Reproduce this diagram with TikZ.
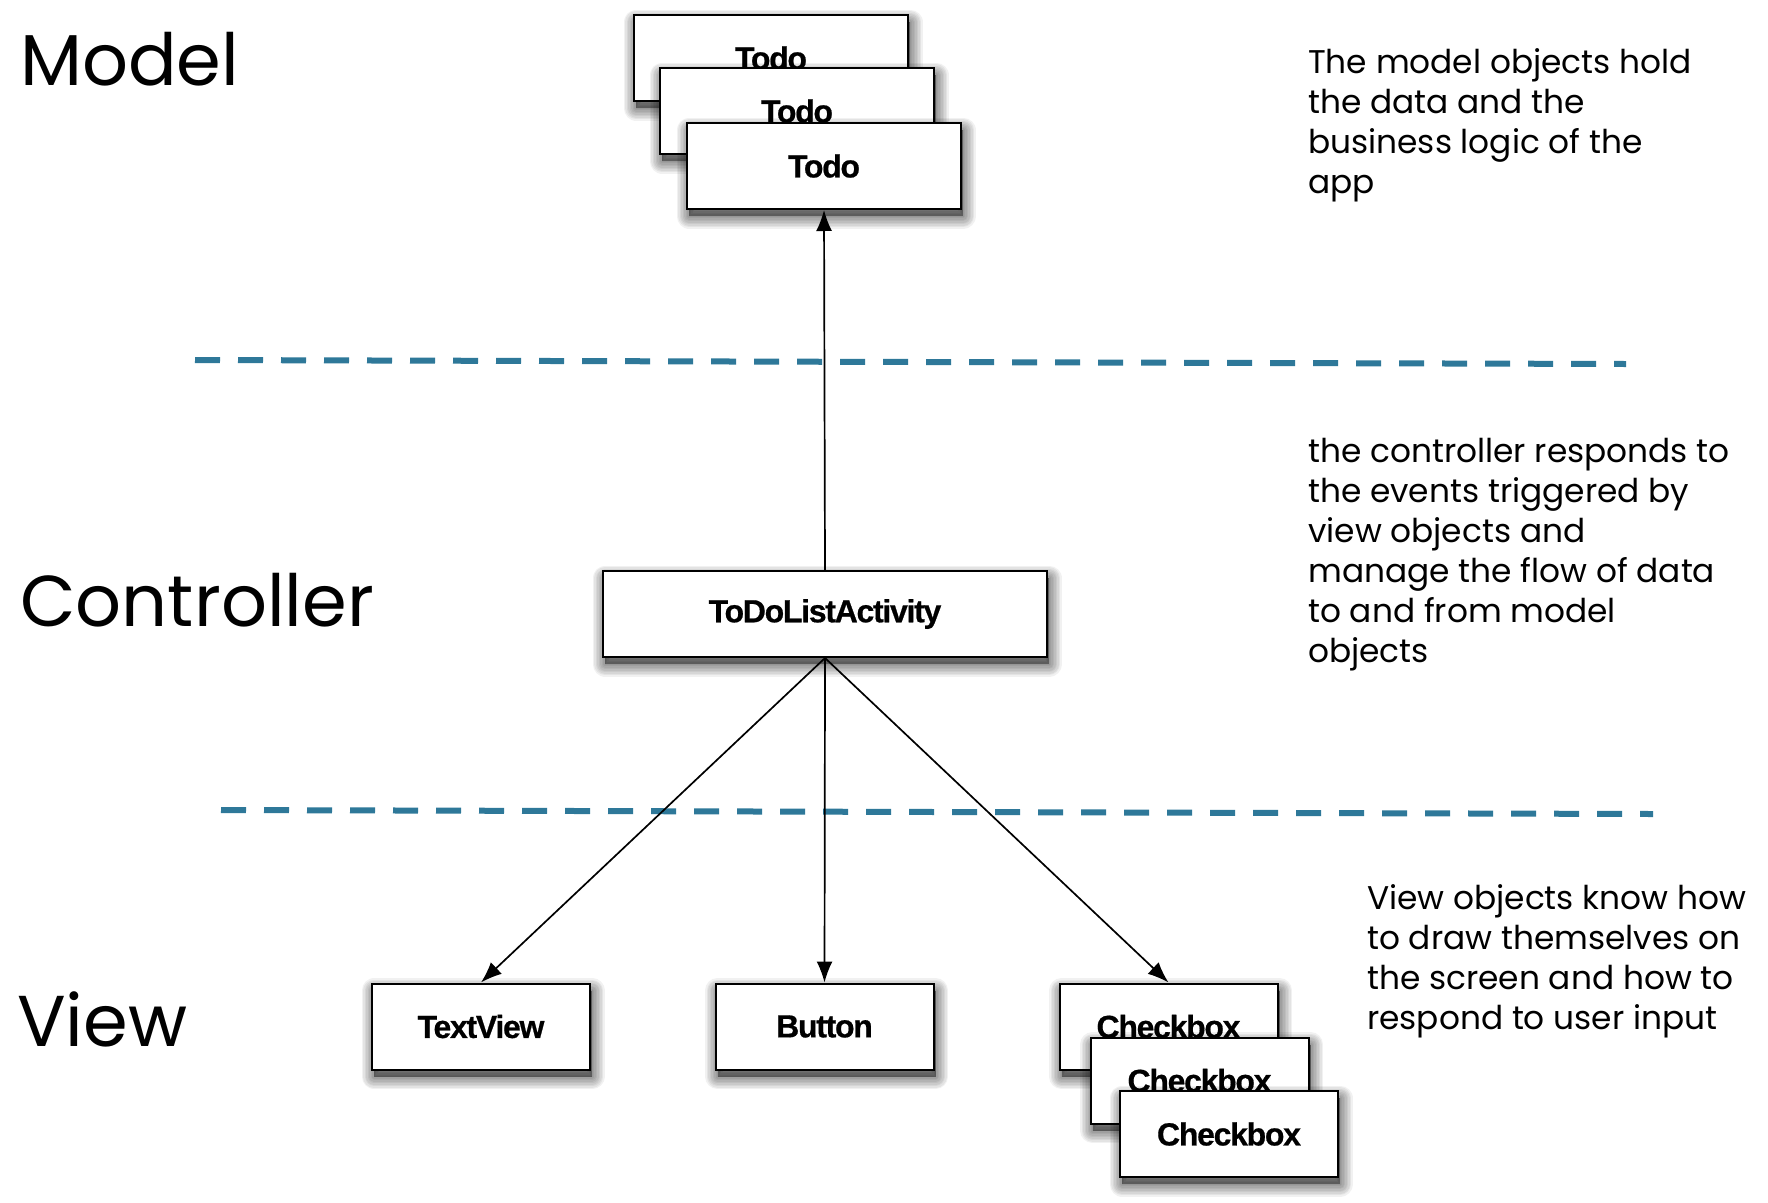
\documentclass[tikz,border=0pt]{standalone}
\usepackage{fontspec}
\setmainfont{Poppins}
\newfontfamily\boxfont{Liberation Sans}[LetterSpace=-4, BoldFeatures={FakeBold=0.6}]
\usetikzlibrary{arrows.meta,shadows}
\definecolor{sepblue}{HTML}{2E7899}
\tikzset{
  shadowlayer/.style={general shadow={fill=black, draw=black, line width=#1, line join=round,
    opacity=0.055, shadow xshift=2pt, shadow yshift=-7pt}},
  boxshadow/.style={shadowlayer=1pt, shadowlayer=4pt, shadowlayer=7pt, shadowlayer=10pt,
    shadowlayer=13pt, shadowlayer=16pt, shadowlayer=19pt, shadowlayer=22pt, shadowlayer=25pt},
  objbox/.style={draw=black, line width=2pt, fill=white, inner sep=0pt,
    minimum height=86pt, boxshadow,
    font=\boxfont\bfseries\fontsize{32}{32}\selectfont},
  layerlabel/.style={anchor=base west, inner sep=0pt, font=\fontsize{72}{72}\selectfont},
  note/.style={anchor=base west, inner sep=0pt, font=\fontsize{32.8}{40}\selectfont},
  sepline/.style={draw=sepblue, line width=6pt, dash pattern=on 25pt off 18pt},
  link/.style={line width=1.7pt, -{Latex[length=21pt,width=16pt]}}
}
\begin{document}
\begin{tikzpicture}[x=1pt,y=-1pt]
\useasboundingbox[fill=white] (0,0) rectangle (1768,1202);

% layer labels
\node[layerlabel] (lm) at (20,85) {Model};
\node[layerlabel] (lc) at (20,626) {Controller};
\node[layerlabel] (lv) at (17,1046) {View};

% separators
\coordinate (s1a) at (195,360);
\coordinate (s1b) at (1626,364);
\coordinate (s2a) at (221,810);
\coordinate (s2b) at (1653,814);
\draw[sepline] (s1a) -- (s1b);
\draw[sepline] (s2a) -- (s2b);

% model objects
\node[objbox, minimum width=274pt] (todo1) at (771,58) {Todo};
\node[objbox, minimum width=274pt] (todo2) at (797,111) {Todo};
\node[objbox, minimum width=274pt] (todo3) at (824,166) {Todo};

% controller
\node[objbox, minimum width=444pt] (act) at (825,614) {ToDoListActivity};

% views
\node[objbox, minimum width=218pt] (tv) at (481,1026.5) {TextView};
\node[objbox, minimum width=218pt] (btn) at (824.5,1026.5) {Button};
\node[objbox, minimum width=218pt] (cb1) at (1168.5,1026.5) {Checkbox};
\node[objbox, minimum width=218pt] (cb2) at (1199.5,1080.5) {Checkbox};
\node[objbox, minimum width=218pt] (cb3) at (1229,1134) {Checkbox};

% connectors
\draw[link] (act.north) -- (todo3.south);
\draw[link] (act.south) -- (tv.north);
\draw[link] (act.south) -- (btn.north);
\draw[link] (act.south) -- (cb1.north);

% notes
\node[note] (n1) at (1308,73) {\vtop{\hbox{The model objects hold}\hbox{the data and the}\hbox{business logic of the}\hbox{app}}};
\node[note] (n2) at (1308,462) {\vtop{\hbox{the controller responds to}\hbox{the events triggered by}\hbox{view objects and}\hbox{manage the flow of data}\hbox{to and from model}\hbox{objects}}};
\node[note] (n3) at (1367,909) {\vtop{\hbox{View objects know how}\hbox{to draw themselves on}\hbox{the screen and how to}\hbox{respond to user input}}};
\end{tikzpicture}
\end{document}
